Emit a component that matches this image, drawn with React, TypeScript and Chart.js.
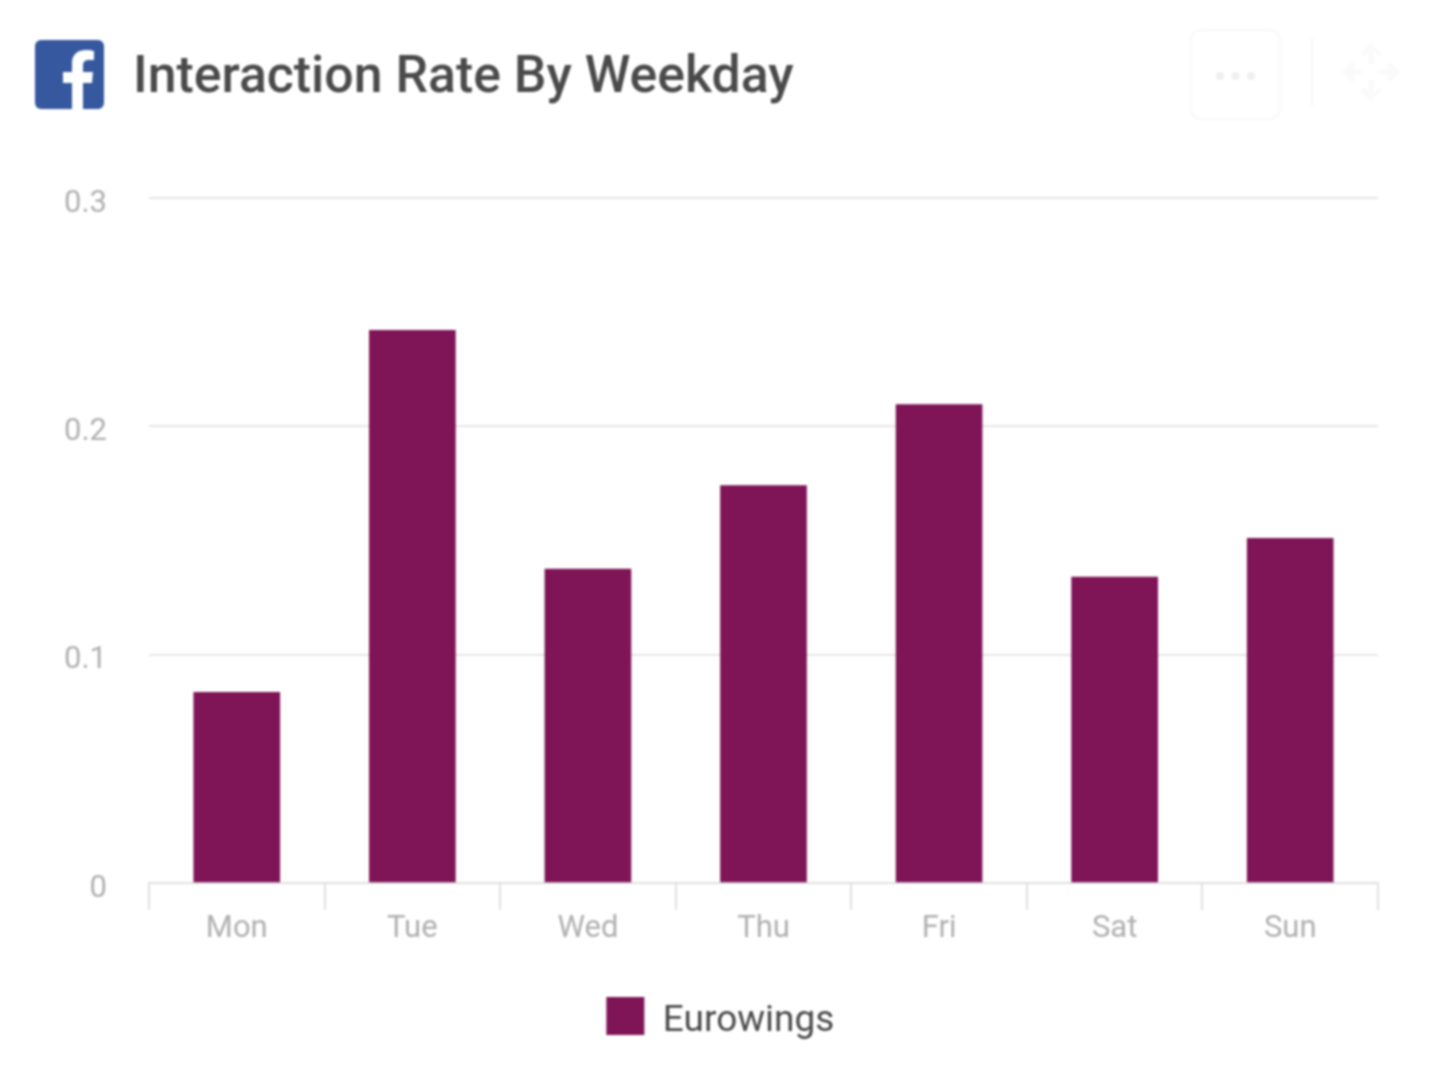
import React, { useEffect, useRef } from "react";
import { Chart, registerables } from "chart.js";

Chart.register(...registerables);

const titleText = "Interaction Rate By Weekday";
const categories = ["Mon", "Tue", "Wed", "Thu", "Fri", "Sat", "Sun"];
const seriesName = "Eurowings";
const seriesValues = [0.0835, 0.242, 0.1375, 0.174, 0.2095, 0.134, 0.151];
const yTicks = [0, 0.1, 0.2, 0.3];

const legendShift = {
  id: "legendShift",
  afterLayout(chart: any) {
    chart.legend.left += 35;
    chart.legend.right += 35;
  },
};

export default function App() {
  const ref = useRef<HTMLCanvasElement>(null);
  useEffect(() => {
    const chart = new Chart(ref.current!, {
      type: "bar",
      plugins: [legendShift],
      data: {
        labels: categories,
        datasets: [
          {
            label: seriesName,
            data: seriesValues,
            backgroundColor: "#7f1457",
            borderWidth: 0,
            barThickness: 86,
          },
        ],
      },
      options: {
        animation: false,
        responsive: false,
        layout: { padding: { top: 198, right: 60, left: 0, bottom: 35 } },
        plugins: {
          tooltip: { enabled: false },
          title: { display: false },
          legend: {
            display: true,
            position: "bottom",
            labels: {
              boxWidth: 38,
              boxHeight: 38,
              padding: 0,
              color: "#4a4a4a",
              font: { family: "Roboto", size: 37, lineHeight: 6 / 37 },
              generateLabels: (c: any) =>
                Chart.defaults.plugins.legend.labels
                  .generateLabels(c)
                  .map((item: any) => ({ ...item, text: ["", item.text] })),
            },
          },
        },
        scales: {
          x: {
            grid: {
              drawOnChartArea: false,
              drawTicks: true,
              tickLength: 27,
              color: "#e0e0e0",
              lineWidth: 2,
            },
            border: { color: "#e0e0e0", width: 2 },
            ticks: {
              color: "#b0b0b0",
              padding: 1,
              maxRotation: 0,
              font: { family: "Roboto", size: 31 },
            },
            afterFit: (s: any) => {
              s.height = 114;
            },
          },
          y: {
            min: 0,
            max: 0.3,
            afterBuildTicks: (s: any) => {
              s.ticks = yTicks.map((value) => ({ value }));
            },
            grid: { drawTicks: false, color: "#e6e6e6", lineWidth: 2 },
            border: { display: false },
            ticks: {
              color: "#b0b0b0",
              padding: 42,
              labelOffset: 6,
              font: { family: "Roboto", size: 31 },
              callback: (v: any) => String(v),
            },
            afterFit: (s: any) => {
              s.width = 149;
            },
          },
        },
      },
    });
    return () => chart.destroy();
  }, []);

  return (
    <div
      style={{
        position: "absolute",
        left: 0,
        top: 0,
        width: 1438,
        height: 1080,
        background: "#fff",
        overflow: "hidden",
        filter: "blur(1px)",
      }}
    >
      <canvas
        ref={ref}
        width={1438}
        height={1080}
        style={{ position: "absolute", left: 0, top: 0, display: "block" }}
      />
      <svg
        width={1438}
        height={130}
        style={{ position: "absolute", left: 0, top: 0 }}
      >
        <rect x={35} y={40} width={69} height={69} rx={6} fill="#36589f" />
        <path
          d="M72 109V83H63V72H72V63C72 54 78 50 86 50C90 50 92 50.500 94 51V60H89C85 60 83 62 83 65V72H93L92 83H83V109Z"
          fill="#ffffff"
        />
        <rect
          x={1191}
          y={30}
          width={89}
          height={89}
          rx={10}
          fill="none"
          stroke="#f8f8f8"
          strokeWidth={2}
        />
        <circle cx={1220} cy={76} r={4} fill="#efefef" />
        <circle cx={1235.500} cy={76} r={4} fill="#efefef" />
        <circle cx={1251} cy={76} r={4} fill="#efefef" />
        <line x1={1312} y1={38} x2={1312} y2={106} stroke="#f6f6f6" strokeWidth={2} />
        <g stroke="#fafafa" strokeWidth={5} fill="none">
          <path d="M1371 48V64M1371 80V96M1347 72H1363M1379 72H1395" />
          <path d="M1362 55L1371 46L1380 55M1362 89L1371 98L1380 89M1354 63L1345 72L1354 81M1388 63L1397 72L1388 81" />
        </g>
      </svg>
      <div
        style={{
          position: "absolute",
          left: 133,
          top: 45,
          fontFamily: "Roboto",
          fontWeight: 500,
          fontSize: 51.8,
          lineHeight: "60px",
          color: "#4a4a4a",
          whiteSpace: "nowrap",
        }}
      >
        {titleText}
      </div>
    </div>
  );
}
